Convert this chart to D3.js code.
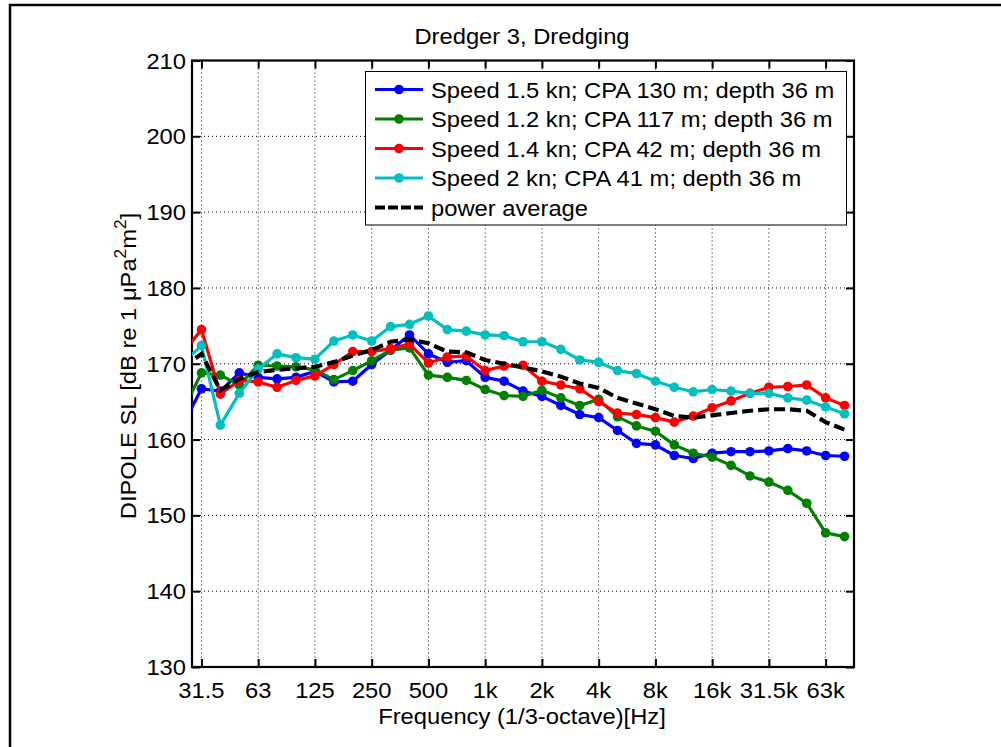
<!DOCTYPE html>
<html>
<head>
<meta charset="utf-8">
<script src="https://cdn.jsdelivr.net/npm/d3@7"></script>
<style>
html,body{margin:0;padding:0;background:#fff;}
svg{display:block;}
text{font-family:"Liberation Sans",Arial,Helvetica,sans-serif;fill:#000;}
</style>
</head>
<body>
<svg id="chart" width="1001" height="747"></svg>
<script>
// 1/3-octave band centre frequencies (Hz), 25 Hz band lies just outside the axis
const bands = [25, 31.5, 40, 50, 63, 80, 100, 125, 160, 200, 250, 315, 400, 500, 630, 800,
  1000, 1250, 1600, 2000, 2500, 3150, 4000, 5000, 6300, 8000, 10000, 12500, 16000, 20000,
  25000, 31500, 40000, 50000, 63000, 80000];

const tickFreqs = [31.5, 63, 125, 250, 500, 1000, 2000, 4000, 8000, 16000, 31500, 63000];
const tickLabels = ["31.5", "63", "125", "250", "500", "1k", "2k", "4k", "8k", "16k", "31.5k", "63k"];
const yTicks = [130, 140, 150, 160, 170, 180, 190, 200, 210];

const seriesNames = [
  "Speed 1.5 kn; CPA 130 m; depth 36 m",
  "Speed 1.2 kn; CPA 117 m; depth 36 m",
  "Speed 1.4 kn; CPA 42 m; depth 36 m",
  "Speed 2 kn; CPA 41 m; depth 36 m"
];
const averageName = "power average";

const speed15 = [161.8, 166.7, 166.4, 168.8, 168.2, 168.0, 168.2, 169.0, 167.6, 167.7, 169.9, 171.8,
  173.8, 171.3, 170.2, 170.4, 168.2, 167.7, 166.4, 165.7, 164.5, 163.3, 162.9, 161.2, 159.5, 159.3,
  157.9, 157.5, 158.2, 158.4, 158.4, 158.5, 158.8, 158.5, 157.9, 157.8];
const speed12 = [163.7, 168.8, 168.5, 167.2, 169.8, 169.7, 169.6, 169.2, 167.9, 169.1, 170.4, 171.8,
  172.1, 168.5, 168.2, 167.8, 166.6, 165.8, 165.7, 166.5, 165.5, 164.5, 165.3, 163.0, 161.8, 161.1,
  159.3, 158.2, 157.7, 156.6, 155.2, 154.4, 153.3, 151.6, 147.7, 147.2];
const speed14 = [171.4, 174.5, 166.0, 167.8, 167.6, 166.9, 167.8, 168.4, 169.9, 171.6, 171.6, 172.0,
  172.6, 170.1, 170.9, 171.0, 169.1, 169.7, 169.8, 167.7, 167.2, 166.7, 165.0, 163.5, 163.3, 162.9,
  162.3, 163.1, 164.2, 165.1, 166.1, 166.9, 167.0, 167.2, 165.5, 164.5];
const speed20 = [170.0, 172.4, 161.9, 166.1, 169.3, 171.3, 170.8, 170.6, 173.0, 173.8, 173.0, 174.9,
  175.2, 176.3, 174.5, 174.3, 173.8, 173.7, 172.9, 172.9, 171.9, 170.5, 170.2, 169.1, 168.7, 167.7,
  166.9, 166.3, 166.6, 166.4, 166.1, 166.1, 165.5, 165.2, 164.3, 163.4];
const powerAverage = [169.5, 171.3, 166.5, 168.0, 168.9, 169.2, 169.4, 169.6, 170.2, 171.1, 171.8, 172.9,
  173.2, 172.7, 171.6, 171.5, 170.5, 170.0, 169.5, 169.0, 168.3, 167.4, 166.8, 165.5, 164.75, 164.0,
  163.1, 162.9, 163.2, 163.5, 163.8, 164.0, 164.0, 163.8, 162.3, 161.3];

const seriesValues = [speed15, speed12, speed14, speed20];
const seriesColors = ["#0000ff", "#008000", "#ff0000", "#00bfbf"];

// ---------------------------------------------------------------
const SX = 1.08; // horizontal stretch of the glyphs
const FS = 22;
const svg = d3.select("#chart");
const L = 192, R = 854, T = 60.5, B = 667;

// band index: 31.5 Hz -> 0
const bandIndex = f => bands.indexOf(f) - 1;
const x = d3.scaleLinear().domain([-0.5, 34.5]).range([L, R]);
const y = d3.scaleLinear().domain([130, 210]).range([B, T]);

function label(parent, px, py, str, anchor, size, rot) {
  return parent.append("text")
    .attr("transform", `translate(${px},${py})${rot ? " rotate(-90)" : ""} scale(${SX},1)`)
    .attr("text-anchor", anchor)
    .style("font-size", size + "px")
    .text(str);
}

// figure frame
svg.append("rect").attr("x", 10).attr("y", 5).attr("width", 1010).attr("height", 760)
  .attr("fill", "none").attr("stroke", "#000").attr("stroke-width", 2.5);

// clip
svg.append("defs").append("clipPath").attr("id", "plotclip")
  .append("rect").attr("x", L).attr("y", T).attr("width", R - L).attr("height", B - T);

// grid
const grid = svg.append("g");
tickFreqs.forEach(f => {
  grid.append("line").attr("x1", x(bandIndex(f))).attr("x2", x(bandIndex(f)))
    .attr("y1", T).attr("y2", B).attr("stroke", "#000").attr("stroke-width", 1)
    .attr("stroke-dasharray", "1,3");
});
yTicks.forEach(v => {
  grid.append("line").attr("x1", L).attr("x2", R).attr("y1", y(v)).attr("y2", y(v))
    .attr("stroke", "#000").attr("stroke-width", 1).attr("stroke-dasharray", "1,3");
});

// axes (ticks inward, box)
const xAxisB = d3.axisBottom(x).tickValues(tickFreqs.map(bandIndex)).tickSize(-8).tickFormat(() => "");
const xAxisT = d3.axisTop(x).tickValues(tickFreqs.map(bandIndex)).tickSize(-8).tickFormat(() => "");
const yAxisL = d3.axisLeft(y).tickValues(yTicks).tickSize(-8).tickFormat(() => "");
const yAxisR = d3.axisRight(y).tickValues(yTicks).tickSize(-8).tickFormat(() => "");
[[xAxisB, `translate(0,${B})`], [xAxisT, `translate(0,${T})`],
 [yAxisL, `translate(${L},0)`], [yAxisR, `translate(${R},0)`]].forEach(([ax, tr]) => {
  const g = svg.append("g").attr("transform", tr).call(ax);
  g.selectAll(".domain").remove();
  g.selectAll("line").attr("stroke", "#000").attr("stroke-width", 2);
});
svg.append("rect").attr("x", L).attr("y", T).attr("width", R - L).attr("height", B - T)
  .attr("fill", "none").attr("stroke", "#000").attr("stroke-width", 2.2);

// tick labels
tickFreqs.forEach((f, i) => label(svg, x(bandIndex(f)), 698, tickLabels[i], "middle", FS));
yTicks.forEach(v => label(svg, 186, y(v) + 8, String(v), "end", FS));

// data
const plot = svg.append("g").attr("clip-path", "url(#plotclip)");
const line = d3.line().x((d, i) => x(i - 1)).y(d => y(d));
seriesValues.forEach((vals, k) => {
  plot.append("path").datum(vals).attr("d", line).attr("fill", "none")
    .attr("stroke", seriesColors[k]).attr("stroke-width", 3.2).attr("stroke-linejoin", "round");
  plot.selectAll(null).data(vals).enter().append("circle")
    .attr("cx", (d, i) => x(i - 1)).attr("cy", d => y(d)).attr("r", 4.8)
    .attr("fill", seriesColors[k]);
});
plot.append("path").datum(powerAverage).attr("d", line).attr("fill", "none")
  .attr("stroke", "#000").attr("stroke-width", 4.2).attr("stroke-dasharray", "11,5");

// legend
const lg = svg.append("g");
lg.append("rect").attr("x", 365.5).attr("y", 71.5).attr("width", 481).attr("height", 153.5)
  .attr("fill", "#fff").attr("stroke", "#000").attr("stroke-width", 1);
const rowY = [89.5, 119, 148.5, 178, 207.5];
seriesNames.forEach((n, k) => {
  lg.append("line").attr("x1", 375).attr("x2", 423).attr("y1", rowY[k]).attr("y2", rowY[k])
    .attr("stroke", seriesColors[k]).attr("stroke-width", 3.2);
  lg.append("circle").attr("cx", 399).attr("cy", rowY[k]).attr("r", 4.8).attr("fill", seriesColors[k]);
  label(lg, 431, rowY[k] + 8, n, "start", FS);
});
lg.append("line").attr("x1", 375).attr("x2", 423).attr("y1", rowY[4]).attr("y2", rowY[4])
  .attr("stroke", "#000").attr("stroke-width", 4.2).attr("stroke-dasharray", "10,3");
label(lg, 431, rowY[4] + 8, averageName, "start", FS);

// title and axis labels
label(svg, 522, 44, "Dredger 3, Dredging", "middle", FS);
label(svg, 522, 724, "Frequency (1/3-octave)[Hz]", "middle", FS);
const yl = label(svg, 136, 366, "", "middle", FS, true);
yl.append("tspan").text("DIPOLE SL [dB re 1 \u03bcPa");
yl.append("tspan").attr("dy", -10).style("font-size", "16px").text("2");
yl.append("tspan").attr("dy", 10).text("m");
yl.append("tspan").attr("dy", -10).style("font-size", "16px").text("2");
yl.append("tspan").attr("dy", 10).text("]");
</script>
</body>
</html>
